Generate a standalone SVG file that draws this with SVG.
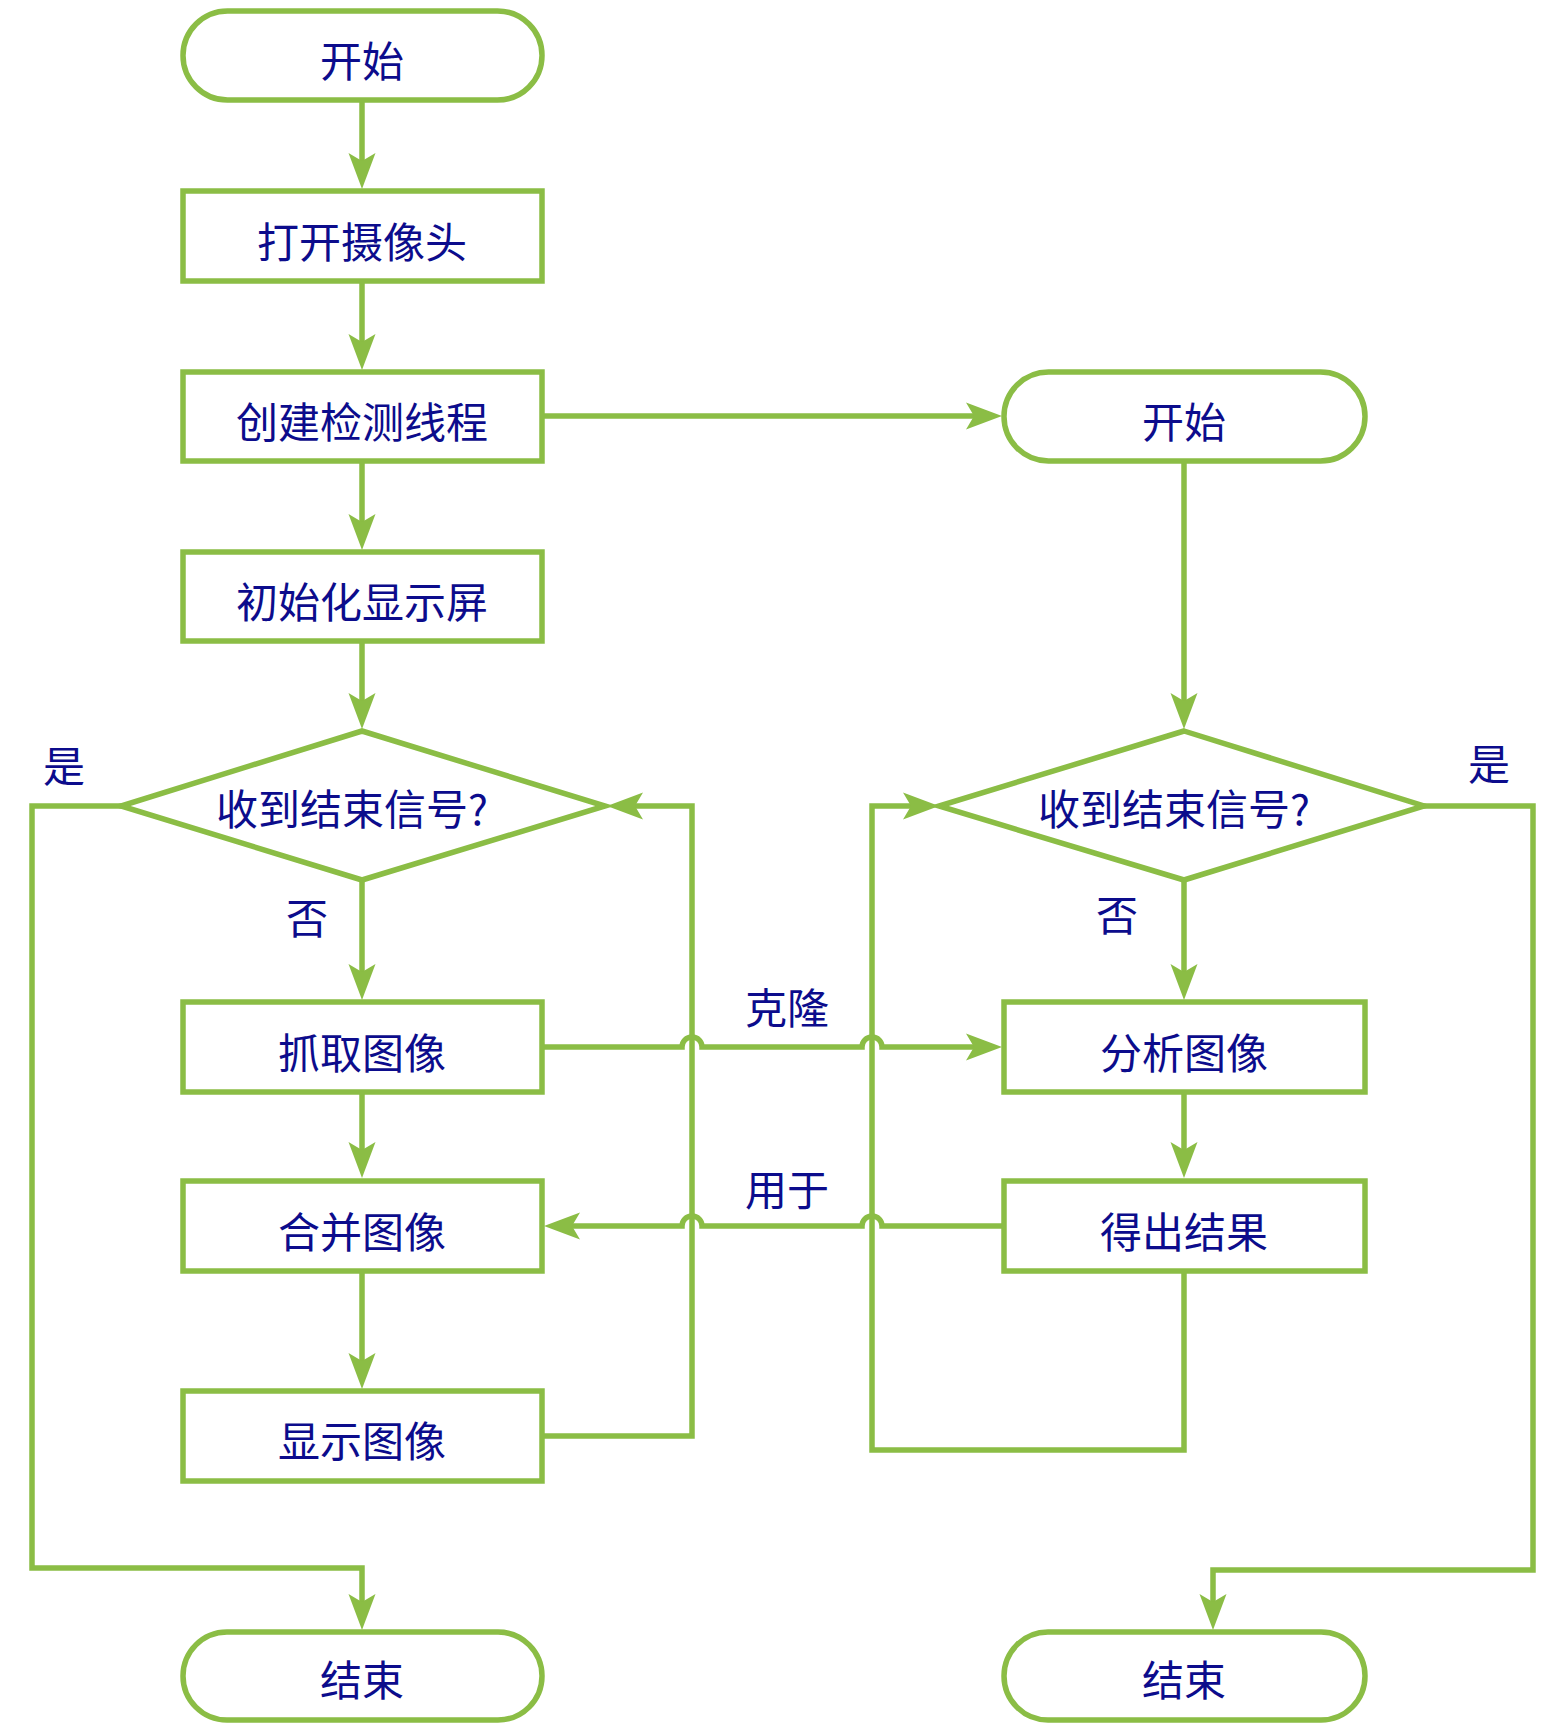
<svg xmlns="http://www.w3.org/2000/svg" width="1567" height="1732" viewBox="0 0 1567 1732">
<style>
.n{fill:#fff;stroke:#8bbd45;stroke-width:5.5}
.c{fill:none;stroke:#8bbd45;stroke-width:5.5}
.t{font-family:"Microsoft YaHei","Noto Sans CJK SC","Noto Sans",sans-serif;font-size:42px;fill:#0c0c8c;text-anchor:middle}
</style>
<defs>
<marker id="arr" markerUnits="userSpaceOnUse" markerWidth="36" markerHeight="28" refX="26" refY="14" orient="auto">
<path d="M0,0.5 L36,14 L0,27.5 L8,14 Z" fill="#8bbd45"/>
</marker>
</defs>
<rect width="1567" height="1732" fill="#fff"/>
<g id="connectors">
<path class="c" d="M362,102 V179" marker-end="url(#arr)"/>
<path class="c" d="M362,283 V360" marker-end="url(#arr)"/>
<path class="c" d="M362,463 V540" marker-end="url(#arr)"/>
<path class="c" d="M362,643 V719" marker-end="url(#arr)"/>
<path class="c" d="M362,880 V990" marker-end="url(#arr)"/>
<path class="c" d="M362,1092 V1168" marker-end="url(#arr)"/>
<path class="c" d="M362,1271 V1379" marker-end="url(#arr)"/>
<path class="c" d="M121,806 H32 V1568 H362 V1620" marker-end="url(#arr)"/>
<path class="c" d="M542,1436 H692 V806 H617" marker-end="url(#arr)"/>
<path class="c" d="M542,416 H992" marker-end="url(#arr)"/>
<path class="c" d="M1184,462 V719" marker-end="url(#arr)"/>
<path class="c" d="M542,1047 H682 A10,10 0 0 1 702,1047 H862 A10,10 0 0 1 882,1047 H992" marker-end="url(#arr)"/>
<path class="c" d="M1004,1226 H882 A10,10 0 0 0 862,1226 H702 A10,10 0 0 0 682,1226 H554" marker-end="url(#arr)"/>
<path class="c" d="M1184,1271 V1450 H872 V806 H929" marker-end="url(#arr)"/>
<path class="c" d="M1424,806 H1533 V1570 H1213 V1620" marker-end="url(#arr)"/>
<path class="c" d="M1184,880 V990" marker-end="url(#arr)"/>
<path class="c" d="M1184,1092 V1168" marker-end="url(#arr)"/>
<text class="t" x="64" y="782">是</text>
<text class="t" x="307" y="934">否</text>
<text class="t" x="1489" y="780">是</text>
<text class="t" x="1117" y="931">否</text>
<text class="t" x="787" y="1024">克隆</text>
<text class="t" x="787" y="1206">用于</text>
</g>
<g id="start1"><rect class="n" x="183" y="11" width="359" height="89" rx="44.5"/><text class="t" x="362" y="77">开始</text></g>
<g id="openCam"><rect class="n" x="183" y="191" width="359" height="90"/><text class="t" x="362" y="258">打开摄像头</text></g>
<g id="createThread"><rect class="n" x="183" y="372" width="359" height="89"/><text class="t" x="362" y="438">创建检测线程</text></g>
<g id="initDisplay"><rect class="n" x="183" y="552" width="359" height="89"/><text class="t" x="362" y="618">初始化显示屏</text></g>
<g id="decision1"><polygon class="n" points="362,731 605,806 362,880 121,806"/><text class="t" x="352" y="825">收到结束信号?</text></g>
<g id="grab"><rect class="n" x="183" y="1002" width="359" height="90"/><text class="t" x="362" y="1069">抓取图像</text></g>
<g id="merge"><rect class="n" x="183" y="1181" width="359" height="90"/><text class="t" x="362" y="1248">合并图像</text></g>
<g id="show"><rect class="n" x="183" y="1391" width="359" height="90"/><text class="t" x="362" y="1457">显示图像</text></g>
<g id="end1"><rect class="n" x="183" y="1632" width="359" height="88" rx="44"/><text class="t" x="362" y="1696">结束</text></g>
<g id="start2"><rect class="n" x="1004" y="372" width="361" height="89" rx="44.5"/><text class="t" x="1184" y="438">开始</text></g>
<g id="decision2"><polygon class="n" points="1184,731 1424,806 1184,880 939,806"/><text class="t" x="1174" y="825">收到结束信号?</text></g>
<g id="analyze"><rect class="n" x="1004" y="1002" width="361" height="90"/><text class="t" x="1184" y="1069">分析图像</text></g>
<g id="result"><rect class="n" x="1004" y="1181" width="361" height="90"/><text class="t" x="1184" y="1248">得出结果</text></g>
<g id="end2"><rect class="n" x="1004" y="1632" width="361" height="88" rx="44"/><text class="t" x="1184" y="1696">结束</text></g>
</svg>
